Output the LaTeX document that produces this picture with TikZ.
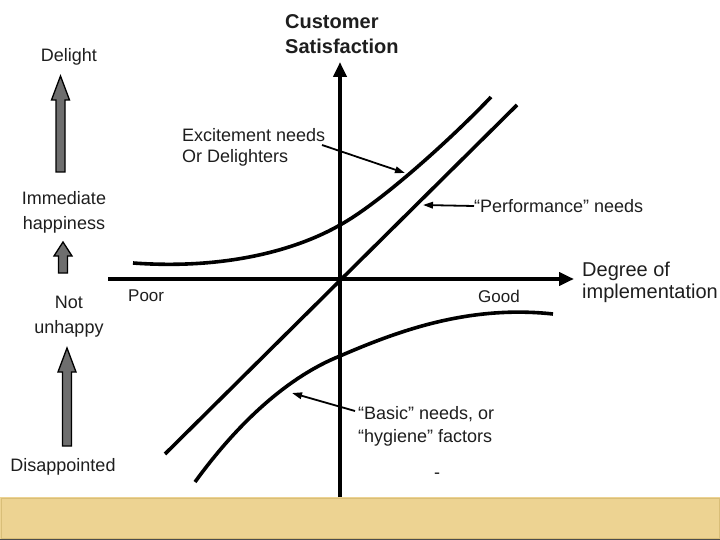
\documentclass[tikz,border=0pt]{standalone}
\usepackage{fontspec}
\setmainfont{Liberation Sans}
\usetikzlibrary{arrows.meta}
\definecolor{band}{HTML}{EDD392}
\definecolor{bandedge}{HTML}{D9BE78}
\definecolor{txt}{HTML}{1E1E1E}
\definecolor{arrgray}{HTML}{6E6E6E}
\newcommand{\grayarrow}[4]{% x, ybottom, ytip, head length
  \filldraw[fill=arrgray, draw=black, line width=1.3pt, line join=miter]
    (#1-4.5,#2) -- (#1-4.5,#3+#4) -- (#1-9,#3+#4) -- (#1,#3) -- (#1+9,#3+#4) -- (#1+4.5,#3+#4) -- (#1+4.5,#2) -- cycle;}
\begin{document}
\begin{tikzpicture}[x=1pt,y=-1pt,
  lbl/.style={text=txt, font=\fontsize{18}{23}\selectfont, inner sep=0pt, align=left},
  side/.style={text=txt, font=\fontsize{18}{25}\selectfont, inner sep=0pt, align=center},
  axis/.style={line width=4pt, -{Triangle[length=15pt,width=13pt]}},
  curve/.style={line width=3.6pt},
  pointer/.style={line width=1.8pt, -{Triangle[length=10pt,width=6.5pt]}}]
\useasboundingbox (0,0) rectangle (720,540);
\fill[white] (0,0) rectangle (720,540);
% bottom band
\fill[band] (0,497) rectangle (720,540);
\draw[bandedge, line width=0.8pt] (1,498) rectangle (719,538);
\draw[black!70, line width=1.2pt] (0,539.4) -- (720,539.4);
% axes
\coordinate (ybot) at (340,497);
\coordinate (ytop) at (340,62);
\coordinate (xleft) at (108,279);
\coordinate (xright) at (574,279);
\draw[axis] (ybot) -- (ytop);
\draw[axis] (xleft) -- (xright);
\node[anchor=north west, text=txt, font=\bfseries\fontsize{20}{25}\selectfont, inner sep=0pt, align=left] (cs) at (285,14) {Customer\\Satisfaction};
\node[anchor=north west, text=txt, font=\fontsize{20}{22}\selectfont, inner sep=0pt, align=left] (doi) at (582,262) {Degree of\\implementation};
\node[lbl, anchor=north west, font=\fontsize{17}{20}\selectfont] (poor) at (128,290) {Poor};
\node[lbl, anchor=north west, font=\fontsize{17}{20}\selectfont] (good) at (478,290) {Good};
% performance line
\coordinate (p1) at (165,454);
\coordinate (p2) at (517,105);
\draw[curve] (p1) -- (p2);
% excitement curve
\coordinate (e1) at (133,263);
\coordinate (emid) at (340,225);
\coordinate (e2) at (491,97);
\draw[curve] (e1) .. controls (230,270) and (300,248) .. (emid) .. controls (380,203) and (450,140) .. (e2);
% basic curve
\coordinate (b1) at (195,482);
\coordinate (bmid) at (340,356);
\coordinate (b2) at (553,314);
\draw[curve] (b1) .. controls (240,420) and (290,376) .. (bmid) .. controls (400,330) and (470,305) .. (b2);
% annotations
\node[lbl, anchor=north west, font=\fontsize{18}{21.5}\selectfont] (exc) at (182,128) {Excitement needs\\Or Delighters};
\coordinate (excstart) at (322,145);
\coordinate (excend) at (405,173);
\draw[pointer] (excstart) -- (excend);
\node[lbl, anchor=west] (perf) at (474,206) {“Performance” needs};
\coordinate (perfend) at (423,205);
\draw[pointer] (perf.west) -- (perfend);
\node[lbl, anchor=north west] (basic) at (358,406) {“Basic” needs, or\\“hygiene” factors};
\coordinate (basicstart) at (355,411);
\coordinate (basicend) at (292,393);
\draw[pointer] (basicstart) -- (basicend);
\node[lbl, anchor=center] (dash) at (437,476) {-};
% left scale
\node[side] (delight) at (69,57) {Delight};
\node[side] (imm) at (64,212) {Immediate\\happiness};
\node[side] (nu) at (69,317) {Not\\unhappy};
\node[side] (dis) at (63,467) {Disappointed};
\grayarrow{60.5}{172}{76}{24}
\grayarrow{63}{273}{242}{14}
\grayarrow{67}{446}{348}{24}
\end{tikzpicture}
\end{document}
